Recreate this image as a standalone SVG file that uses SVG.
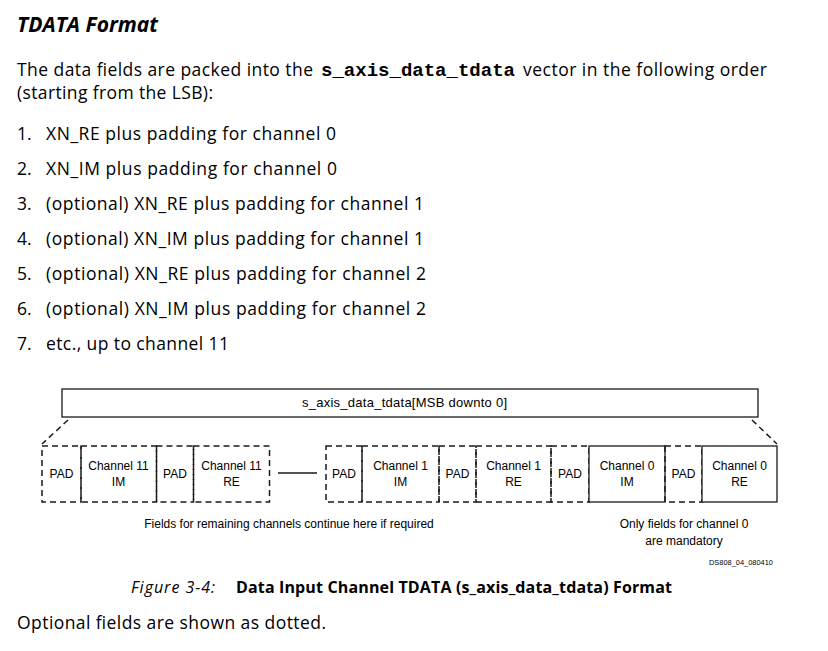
<svg xmlns="http://www.w3.org/2000/svg" width="828" height="651" viewBox="0 0 828 651">
<style>
.body{font-family:"Open Sans","Noto Sans","DejaVu Sans",sans-serif;font-size:17.5px;fill:#000}
.d{font-family:"Liberation Sans",Arial,sans-serif;font-size:12px;fill:#000;text-anchor:middle}
.sm{font-family:"Liberation Sans",Arial,sans-serif;font-size:7.5px;fill:#000}
.dash{fill:none;stroke:#1a1a1a;stroke-width:1.5;stroke-dasharray:6,4}
.solid{fill:#fff;stroke:#1a1a1a;stroke-width:1.3}
</style>
<rect width="828" height="651" fill="#fff"/>
<text x="17" y="32" class="body" style="font-size:21px;font-weight:bold;font-style:italic" textLength="141" lengthAdjust="spacingAndGlyphs">TDATA Format</text>
<text x="17" y="76" class="body" textLength="296" lengthAdjust="spacing">The data fields are packed into the</text>
<text x="321" y="76" style="font-family:'Liberation Mono','Courier New',monospace;font-weight:bold;font-size:19px" textLength="194">s_axis_data_tdata</text>
<text x="523" y="76" class="body" textLength="244" lengthAdjust="spacing">vector in the following order</text>
<text x="17" y="99" class="body" textLength="196" lengthAdjust="spacing">(starting from the LSB):</text>
<g class="body">
<text x="17" y="140">1.</text><text x="46" y="140" textLength="290" lengthAdjust="spacing">XN_RE plus padding for channel 0</text>
<text x="17" y="175">2.</text><text x="46" y="175" textLength="291" lengthAdjust="spacing">XN_IM plus padding for channel 0</text>
<text x="17" y="210">3.</text><text x="46" y="210" textLength="378" lengthAdjust="spacing">(optional) XN_RE plus padding for channel 1</text>
<text x="17" y="245">4.</text><text x="46" y="245" textLength="378" lengthAdjust="spacing">(optional) XN_IM plus padding for channel 1</text>
<text x="17" y="280">5.</text><text x="46" y="280" textLength="380" lengthAdjust="spacing">(optional) XN_RE plus padding for channel 2</text>
<text x="17" y="315">6.</text><text x="46" y="315" textLength="380" lengthAdjust="spacing">(optional) XN_IM plus padding for channel 2</text>
<text x="17" y="350">7.</text><text x="46" y="350" textLength="183" lengthAdjust="spacing">etc., up to channel 11</text>
</g>
<g id="bus">
<rect x="62" y="389" width="696" height="28" class="solid" stroke-width="1.6"/>
<text x="404.5" y="407" class="d" style="font-size:13px" textLength="205" lengthAdjust="spacing">s_axis_data_tdata[MSB downto 0]</text>
</g>
<g id="connectors">
<line x1="68" y1="420" x2="42" y2="444" class="dash"/>
<line x1="752" y1="420" x2="777" y2="444" class="dash"/>
<line x1="278" y1="473" x2="317" y2="473" stroke="#1a1a1a" stroke-width="1.3"/>
</g>
<g id="ch11">
<rect x="42" y="446" width="39" height="56" class="dash"/>
<text x="61.5" y="478" class="d">PAD</text>
<rect x="81" y="446" width="75.5" height="56" class="dash"/>
<text x="118.5" y="470" class="d">Channel 11</text><text x="118.5" y="486" class="d">IM</text>
<rect x="156.5" y="446" width="37" height="56" class="dash"/>
<text x="175" y="478" class="d">PAD</text>
<rect x="193.5" y="446" width="76" height="56" class="dash"/>
<text x="231.5" y="470" class="d">Channel 11</text><text x="231.5" y="486" class="d">RE</text>
</g>
<g id="ch1">
<rect x="326" y="446" width="36" height="56" class="dash"/>
<text x="344" y="478" class="d">PAD</text>
<rect x="362" y="446" width="77" height="56" class="dash"/>
<text x="400.5" y="470" class="d">Channel 1</text><text x="400.5" y="486" class="d">IM</text>
<rect x="439" y="446" width="37" height="56" class="dash"/>
<text x="457.5" y="478" class="d">PAD</text>
<rect x="476" y="446" width="75" height="56" class="dash"/>
<text x="513.5" y="470" class="d">Channel 1</text><text x="513.5" y="486" class="d">RE</text>
<rect x="551" y="446" width="38" height="56" class="dash"/>
<text x="570" y="478" class="d">PAD</text>
</g>
<g id="ch0">
<rect x="589" y="446" width="76" height="56" class="solid"/>
<text x="627" y="470" class="d">Channel 0</text><text x="627" y="486" class="d">IM</text>
<rect x="665" y="446" width="37" height="56" class="dash"/>
<text x="683.5" y="478" class="d">PAD</text>
<rect x="702" y="446" width="75" height="56" class="solid"/>
<text x="739.5" y="470" class="d">Channel 0</text><text x="739.5" y="486" class="d">RE</text>
</g>
<text x="289" y="528" class="d">Fields for remaining channels continue here if required</text>
<text x="684" y="528" class="d">Only fields for channel 0</text>
<text x="684" y="545" class="d">are mandatory</text>
<text x="773" y="565" class="sm" text-anchor="end" textLength="64" lengthAdjust="spacingAndGlyphs">DS808_04_080410</text>
<text x="131" y="593" class="body" style="font-size:16px;font-style:italic" textLength="84" lengthAdjust="spacing">Figure 3-4:</text>
<text x="236" y="593" class="body" style="font-size:16px;font-weight:bold" textLength="436" lengthAdjust="spacing">Data Input Channel TDATA (s_axis_data_tdata) Format</text>
<text x="17" y="629" class="body" textLength="309" lengthAdjust="spacing">Optional fields are shown as dotted.</text>
</svg>
